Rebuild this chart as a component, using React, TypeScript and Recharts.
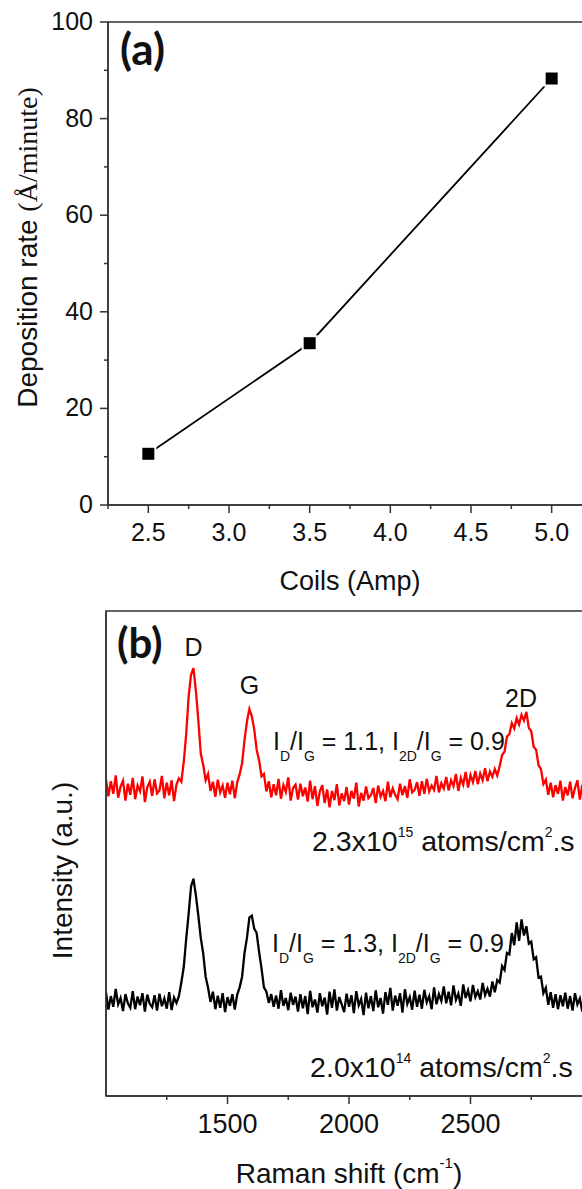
import React from "react";
import { LineChart, Line, XAxis, YAxis, ReferenceArea, ReferenceDot, Label } from "recharts";

// ---------- Panel (a) data ----------
const coils = [2.5, 3.5, 5.0];
const depositionRate = [10.6, 33.5, 88.3];
const coilTicksMajor = [2.5, 3.0, 3.5, 4.0, 4.5, 5.0];
const coilTicksMinor = [2.25, 2.75, 3.25, 3.75, 4.25, 4.75, 5.25];
const rateTicksMajor = [0, 20, 40, 60, 80, 100];
const rateTicksMinor = [10, 30, 50, 70, 90];

// ---------- Panel (b) data (Raman shift sampled every 10 cm-1 from 1000) ----------
const ramanStart = 1000;
const ramanStep = 10;
const redSpectrum = [
  65.2, 61.8, 64.9, 62.3, 66.1, 61.5, 63.8, 65.0, 60.9, 64.4,
  62.1, 65.6, 61.2, 64.0, 62.8, 65.9, 60.6, 63.7, 64.8, 61.9,
  65.3, 62.4, 63.0, 66.0, 61.4, 64.6, 62.0, 65.1, 60.8, 64.2,
  65.5, 64.8, 68.9, 74.6, 82.3, 86.9, 88.2, 83.5, 77.4, 70.6,
  68.3, 65.1, 66.4, 62.9, 64.8, 61.7, 65.2, 62.6, 64.0, 61.5,
  64.6, 62.2, 65.0, 61.4, 64.7, 66.3, 68.6, 73.4, 77.2, 79.8,
  78.3, 75.6, 71.4, 69.2, 65.9, 66.4, 62.8, 64.9, 61.6, 64.3,
  62.0, 65.4, 61.3, 64.1, 62.7, 65.7, 60.9, 63.5, 64.2, 61.1,
  64.4, 61.8, 63.6, 60.7, 65.0, 61.2, 63.9, 59.8, 62.8, 64.1,
  60.4, 63.2, 59.5, 62.9, 61.0, 64.3, 59.9, 62.4, 60.8, 63.7,
  60.1, 62.9, 61.3, 64.6, 59.7, 62.5, 60.9, 63.8, 61.4, 62.0,
  63.5, 60.4, 64.0, 61.7, 62.9, 60.8, 64.8, 61.6, 63.4, 62.1,
  61.2, 64.4, 62.0, 63.9, 61.5, 65.3, 62.6, 63.1, 64.7, 61.9,
  64.9, 62.3, 65.4, 62.8, 64.0, 63.1, 66.0, 62.6, 64.5, 63.4,
  65.8, 63.0, 65.1, 63.9, 66.4, 62.9, 65.6, 64.2, 66.8, 63.6,
  66.2, 64.7, 67.0, 64.3, 66.5, 65.1, 67.6, 64.9, 66.9, 65.8,
  67.4, 66.1, 68.0, 70.3, 71.0, 74.1, 74.6, 76.9, 75.8, 77.9,
  76.6, 78.6, 77.4, 79.2, 75.9, 75.2, 72.0, 71.4, 68.2, 67.4,
  64.3, 65.2, 62.1, 64.6, 61.6, 64.1, 62.3, 65.0, 60.9, 63.7,
  62.0, 64.8, 61.4, 63.5, 65.1, 61.1, 64.2, 62.5, 63.9, 61.7,
  63.2,
];
const blackSpectrum = [
  21.3, 17.8, 20.6, 18.4, 22.1, 18.9, 20.2, 17.5, 21.0, 19.1,
  18.2, 21.6, 17.9, 20.5, 18.7, 21.2, 17.4, 20.9, 19.0, 18.3,
  20.8, 17.6, 21.1, 18.5, 20.1, 18.0, 21.4, 17.7, 20.3, 19.2,
  20.6, 23.4, 26.6, 32.4, 37.5, 43.2, 44.8, 41.3, 37.2, 32.6,
  29.4, 24.6, 22.3, 19.4, 21.5, 17.9, 20.7, 18.2, 21.2, 17.3,
  20.4, 18.6, 21.0, 17.8, 20.9, 22.4, 24.6, 29.5, 32.6, 36.8,
  37.2, 34.5, 33.6, 29.7, 26.3, 22.4, 21.5, 19.2, 21.0, 18.4,
  20.7, 18.0, 21.8, 18.6, 20.2, 17.7, 21.3, 18.8, 20.5, 17.4,
  21.0, 18.1, 20.6, 16.9, 21.7, 18.3, 19.9, 17.2, 21.2, 18.5,
  20.3, 16.8, 21.5, 18.2, 22.0, 17.6, 20.4, 18.9, 17.3, 21.1,
  18.4, 20.8, 17.1, 21.6, 18.7, 20.0, 16.7, 21.3, 18.1, 20.6,
  17.5, 21.8, 18.3, 20.2, 17.0, 21.4, 18.8, 22.3, 17.6, 20.7,
  18.6, 21.2, 17.2, 22.0, 19.0, 20.4, 17.8, 21.7, 18.4, 20.9,
  18.0, 21.9, 19.3, 20.6, 17.9, 22.4, 18.9, 21.0, 19.6, 22.6,
  19.1, 21.5, 18.7, 22.8, 19.8, 21.1, 18.6, 23.0, 20.2, 21.8,
  19.5, 22.9, 20.4, 21.6, 19.9, 23.3, 20.8, 22.1, 20.5, 23.6,
  21.4, 23.9, 23.4, 26.8, 26.0, 29.5, 29.2, 33.6, 31.1, 35.8,
  32.0, 36.4, 33.1, 35.0, 31.4, 31.8, 28.2, 28.6, 24.4, 24.6,
  21.2, 22.3, 18.8, 21.4, 18.2, 21.0, 17.9, 20.8, 18.5, 21.3,
  18.0, 20.6, 17.6, 21.2, 18.9, 20.1, 17.4, 21.5, 18.7, 20.0,
  19.3,
];
const ramanTicksMajor = [1500, 2000, 2500];
const ramanTicksMinor = [1250, 1750, 2250, 2750];

// ---------- Annotation texts ----------
const peakLabels = ["D", "G", "2D"];
const peakPositions = [1360, 1590, 2708];
const peakLabelLevels = [90.7, 82.9, 80.3];

// ---------- styling ----------
const SANS = "'Liberation Sans', Arial, sans-serif";
const SERIF = "'Liberation Serif', 'Times New Roman', serif";
const BOLD = "Lato, 'Open Sans', sans-serif";
const AXIS = "#333";
const INK = "#111";

const depositionData = coils.map((c, i) => ({ coil: c, rate: depositionRate[i] }));
const ramanData = redSpectrum.map((r, i) => ({
  shift: ramanStart + i * ramanStep,
  red: r,
  black: blackSpectrum[i],
}));

type Seg = { t: string; sub?: boolean; sup?: boolean; family?: string };

function RichText(props: {
  x: number;
  y: number;
  segs: Seg[];
  size: number;
  small?: number;
  subDy?: number;
  supDy?: number;
  anchor?: "start" | "middle" | "end";
  family?: string;
  weight?: number | string;
  transform?: string;
}) {
  const { x, y, segs, size, small = 14, subDy = 11, supDy = 14, anchor = "start", family = SANS, weight = 400, transform } = props;
  let shift = 0;
  const spans = segs.map((s, i) => {
    const target = s.sub ? subDy : s.sup ? -supDy : 0;
    const dy = target - shift;
    shift = target;
    return (
      <tspan key={i} dy={dy} fontSize={s.sub || s.sup ? small : size} fontFamily={s.family || family}>
        {s.t}
      </tspan>
    );
  });
  return (
    <text
      x={x}
      y={y}
      textAnchor={anchor}
      fontFamily={family}
      fontWeight={weight}
      fontSize={size}
      fill={INK}
      transform={transform}
      style={{ whiteSpace: "pre" }}
    >
      {spans}
    </text>
  );
}

const isIn = (arr: number[], v: number) => arr.some((m) => Math.abs(m - v) < 1e-6);

const bottomTick = (majors: number[], fmt: (v: number) => string, fontSize: number, offset: number) =>
  (props: any) => {
    const { x, y, payload } = props;
    const v = payload.value;
    const major = isIn(majors, v);
    return (
      <g>
        <line x1={x} y1={y} x2={x} y2={y + (major ? 8 : 4)} stroke={AXIS} strokeWidth={1.5} />
        {major && (
          <text x={x} y={y + offset} textAnchor="middle" fontSize={fontSize} fontFamily={SANS} fill={INK}>
            {fmt(v)}
          </text>
        )}
      </g>
    );
  };

const leftTick = (majors: number[], fmt: (v: number) => string, fontSize: number) =>
  (props: any) => {
    const { x, y, payload } = props;
    const v = payload.value;
    const major = isIn(majors, v);
    return (
      <g>
        <line x1={x} y1={y} x2={x - (major ? 8 : 4)} y2={y} stroke={AXIS} strokeWidth={1.5} />
        {major && (
          <text x={x - 15} y={y + 8} textAnchor="end" fontSize={fontSize} fontFamily={SANS} fill={INK}>
            {fmt(v)}
          </text>
        )}
      </g>
    );
  };

const SquareDot = (p: any) => {
  const { cx, cy, index } = p;
  if (cx == null || cy == null) return <g key={index} />;
  return (
    <g key={index}>
      <rect x={cx - 8} y={cy - 8} width={16} height={16} fill="#fff" />
      <rect x={cx - 6} y={cy - 6} width={12} height={12} fill="#000" />
    </g>
  );
};

const textShape = (segs: Seg[], opts: any) => (p: any) =>
  <RichText x={p.cx} y={p.cy} segs={segs} {...opts} />;

function PanelA() {
  return (
    <LineChart width={622} height={600} data={depositionData} margin={{ top: 22, right: 30, bottom: 0, left: 0 }}>
      <XAxis
        dataKey="coil"
        type="number"
        domain={[2.25, 5.25]}
        allowDataOverflow
        ticks={[...coilTicksMajor, ...coilTicksMinor].sort((a, b) => a - b)}
        interval={0}
        tickSize={0}
        tickMargin={0}
        tickLine={false}
        axisLine={{ stroke: AXIS, strokeWidth: 1.5 }}
        height={95}
        tick={bottomTick(coilTicksMajor, (v) => v.toFixed(1), 25, 36)}
      >
        <Label
          content={(p: any) => {
            const vb = p.viewBox || { x: 108, y: 505, width: 484, height: 95 };
            return (
              <RichText x={vb.x + vb.width / 2} y={vb.y + 85} anchor="middle" size={27} segs={[{ t: "Coils (Amp)" }]} />
            );
          }}
        />
      </XAxis>
      <YAxis
        type="number"
        domain={[0, 100]}
        allowDataOverflow
        ticks={[...rateTicksMajor, ...rateTicksMinor].sort((a, b) => a - b)}
        interval={0}
        tickSize={0}
        tickMargin={0}
        tickLine={false}
        axisLine={{ stroke: AXIS, strokeWidth: 1.5 }}
        width={108}
        tick={leftTick(rateTicksMajor, (v) => String(v), 25)}
      >
        <Label
          content={(p: any) => {
            const vb = p.viewBox || { x: 0, y: 22, width: 108, height: 483 };
            const cx = vb.x + 37;
            const cy = vb.y + vb.height / 2 - 16;
            return (
              <RichText
                x={cx}
                y={cy}
                anchor="middle"
                size={28}
                transform={`rotate(-90 ${cx} ${cy})`}
                segs={[{ t: "Deposition rate " }, { t: "(Å/minute)", family: SERIF }]}
              />
            );
          }}
        />
      </YAxis>
      <ReferenceArea x1={2.25} x2={5.25} y1={0} y2={100} fill="none" stroke={AXIS} strokeWidth={1.5} ifOverflow="visible" />
      <Line
        dataKey="rate"
        stroke="#000"
        strokeWidth={1.8}
        isAnimationActive={false}
        dot={SquareDot}
        activeDot={false}
      />
      <ReferenceDot
        x={2.325}
        y={91.0}
        r={0}
        ifOverflow="visible"
        shape={textShape([{ t: "(a)" }], { size: 44, family: BOLD, weight: 700 })}
      />
    </LineChart>
  );
}

function PanelB() {
  const ratio = (a: string): Seg[] => [
    { t: "I" }, { t: "D", sub: true }, { t: "/I" }, { t: "G", sub: true },
    { t: " = " + a + ", I" }, { t: "2D", sub: true }, { t: "/I" }, { t: "G", sub: true }, { t: " = 0.9" },
  ];
  const flux = (a: string, e: string): Seg[] => [
    { t: a + "x10" }, { t: e, sup: true }, { t: " atoms/cm" }, { t: "2", sup: true }, { t: ".s" },
  ];
  return (
    <LineChart width={622} height={589} data={ramanData} margin={{ top: 11, right: 30, bottom: 0, left: 0 }}>
      <XAxis
        dataKey="shift"
        type="number"
        domain={[1000, 3000]}
        allowDataOverflow
        ticks={[...ramanTicksMajor, ...ramanTicksMinor].sort((a, b) => a - b)}
        interval={0}
        tickSize={0}
        tickMargin={0}
        tickLine={false}
        axisLine={{ stroke: AXIS, strokeWidth: 1.5 }}
        height={93}
        tick={bottomTick(ramanTicksMajor, (v) => String(v), 27, 37)}
      >
        <Label
          content={(p: any) => {
            const vb = p.viewBox || { x: 106, y: 496, width: 486, height: 93 };
            return (
              <RichText
                x={vb.x + vb.width / 2}
                y={vb.y + 87}
                anchor="middle"
                size={28}
                small={15}
                supDy={15}
                segs={[{ t: "Raman shift (cm" }, { t: "-1", sup: true }, { t: ")" }]}
              />
            );
          }}
        />
      </XAxis>
      <YAxis
        type="number"
        domain={[0, 100]}
        allowDataOverflow
        tick={false}
        tickLine={false}
        axisLine={{ stroke: AXIS, strokeWidth: 1.5 }}
        width={106}
      >
        <Label
          content={(p: any) => {
            const vb = p.viewBox || { x: 0, y: 11, width: 106, height: 485 };
            const cx = vb.x + 72;
            const cy = vb.y + vb.height / 2 + 17;
            return (
              <RichText
                x={cx}
                y={cy}
                anchor="middle"
                size={28}
                transform={`rotate(-90 ${cx} ${cy})`}
                segs={[{ t: "Intensity (a.u.)" }]}
              />
            );
          }}
        />
      </YAxis>
      <ReferenceArea x1={1000} x2={3000} y1={0} y2={100} fill="none" stroke={AXIS} strokeWidth={1.5} ifOverflow="visible" />
      <Line dataKey="red" stroke="#ff0000" strokeWidth={2.3} strokeLinejoin="miter" dot={false} activeDot={false} isAnimationActive={false} />
      <Line dataKey="black" stroke="#000" strokeWidth={2.3} strokeLinejoin="miter" dot={false} activeDot={false} isAnimationActive={false} />
      <ReferenceDot x={1045} y={90.3} r={0} ifOverflow="visible"
        shape={textShape([{ t: "(b)" }], { size: 42, family: BOLD, weight: 700 })} />
      {peakLabels.map((l, i) => (
        <ReferenceDot key={l} x={peakPositions[i]} y={peakLabelLevels[i]} r={0} ifOverflow="visible"
          shape={textShape([{ t: l }], { size: 25, anchor: "middle" })} />
      ))}
      <ReferenceDot x={1687} y={71.3} r={0} ifOverflow="visible"
        shape={textShape(ratio("1.1"), { size: 25, small: 14, subDy: 11 })} />
      <ReferenceDot x={1683} y={29.7} r={0} ifOverflow="visible"
        shape={textShape(ratio("1.3"), { size: 25, small: 14, subDy: 11 })} />
      <ReferenceDot x={1848} y={50.5} r={0} ifOverflow="visible"
        shape={textShape(flux("2.3", "15"), { size: 28.5, small: 14, supDy: 14 })} />
      <ReferenceDot x={1840} y={3.9} r={0} ifOverflow="visible"
        shape={textShape(flux("2.0", "14"), { size: 28.5, small: 14, supDy: 14 })} />
    </LineChart>
  );
}

export default function App() {
  return (
    <div
      style={{
        position: "absolute",
        left: 0,
        top: 0,
        width: 582,
        height: 1189,
        overflow: "hidden",
        background: "#fff",
      }}
    >
      <PanelA />
      <PanelB />
    </div>
  );
}
